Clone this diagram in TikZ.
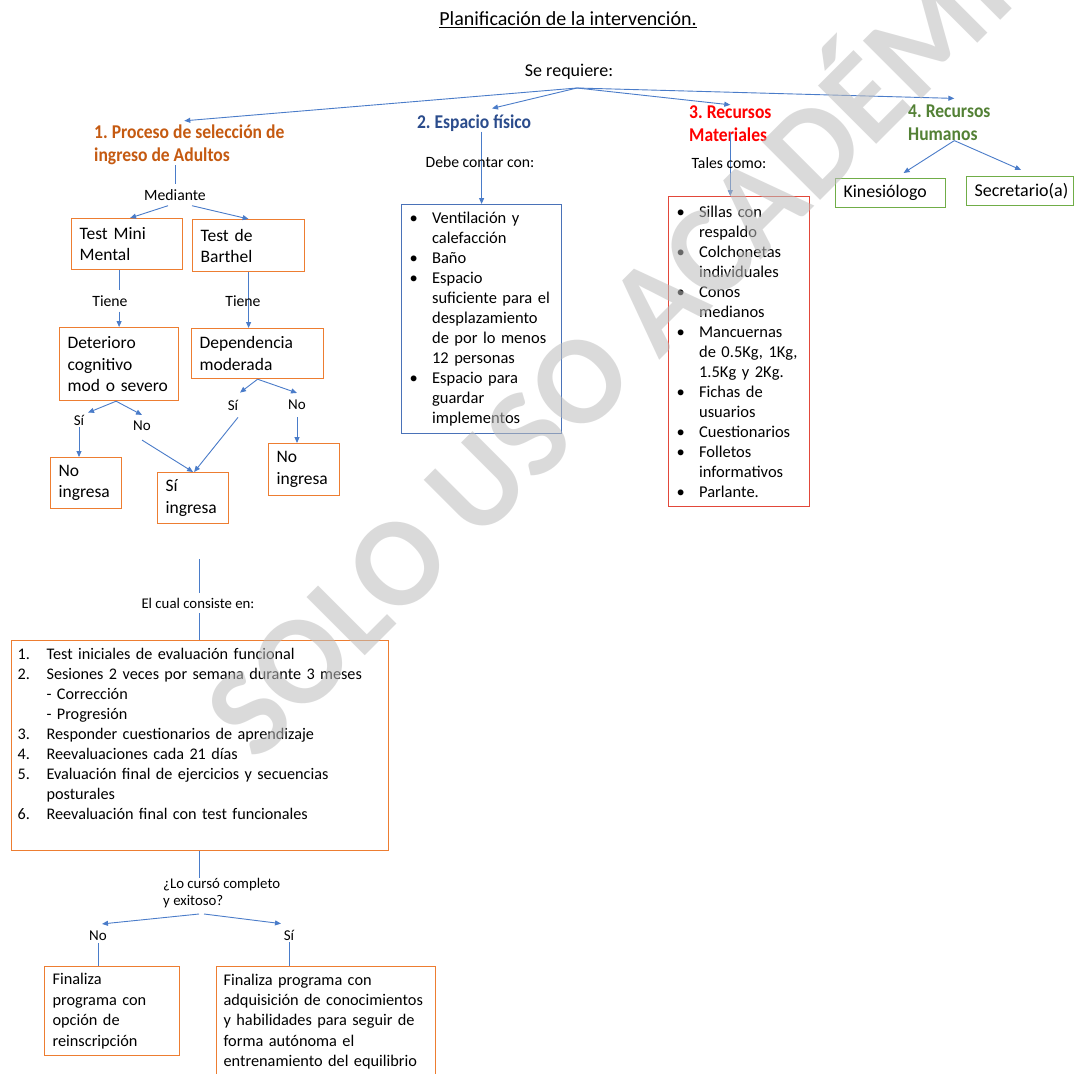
\documentclass[tikz,border=0pt]{standalone}
\usepackage{fontspec}
\setmainfont{Carlito}
\newfontfamily\hfont[FakeStretch=0.9]{Carlito}
\usetikzlibrary{arrows.meta,calc}
\definecolor{obord}{HTML}{ED7D31}
\definecolor{bbord}{HTML}{4A72B8}
\definecolor{rbord}{HTML}{E2483A}
\definecolor{gbord}{HTML}{70AD47}
\definecolor{lineblue}{HTML}{4A7CC9}
\definecolor{horange}{HTML}{C55A11}
\definecolor{hblue}{HTML}{2B4C8C}
\definecolor{hred}{HTML}{FF0000}
\definecolor{hgreen}{HTML}{538135}
\definecolor{wmgray}{HTML}{BDBDBD}
\newcommand{\fsz}[2]{\fontsize{#1}{#2}\selectfont}
\newcommand{\itemB}[1]{\makebox[22.5pt][l]{\textbullet}\mbox{#1}}
\newcommand{\contB}[1]{\hspace*{22.5pt}\mbox{#1}}
\newcommand{\numI}[2]{\makebox[29pt][l]{#1}\mbox{#2}}
\newcommand{\numC}[1]{\hspace*{29pt}\mbox{#1}}
\frenchspacing
\begin{document}
\begin{tikzpicture}[x=1pt,y=-1pt,
  box/.style={line width=1.2pt, inner xsep=8pt, inner ysep=0pt, align=left, anchor=north west, text=black},
  obox/.style={box, draw=obord},
  bbox/.style={box, draw=bbord},
  rbox/.style={box, draw=rbord},
  gbox/.style={box, draw=gbord},
  lbl/.style={inner xsep=2pt, inner ysep=5pt, font=\fsz{15.7}{17}},
  sn/.style={inner sep=2pt, font=\fsz{15}{17}},
  head/.style={inner sep=0pt, align=left, font=\hfont\bfseries\fsz{19.5}{23}},
  arr/.style={draw=lineblue, line width=0.9pt, -{Triangle[length=6pt,width=5pt]}},
  ln/.style={draw=lineblue, line width=0.9pt}
]
\useasboundingbox[fill=white] (0,0) rectangle (1074,1074);

% title
\node[inner sep=0pt, font=\fsz{20}{22}] (title) at (568,20) {\underline{Planificación de la intervención.}};
\node[inner sep=0pt, font=\fsz{18}{20}] (sereq) at (569,72) {Se requiere:};
\coordinate (apex) at (577,88);

% headings
\node[head, text=horange, anchor=west] (h1) at (94,145) {1. Proceso de selección de\\ingreso de Adultos};
\node[head, text=hblue] (h2) at (474,123) {2. Espacio físico};
\node[head, text=hred, anchor=west] (h3) at (689,124) {3. Recursos\\Materiales};
\node[head, text=hgreen, anchor=west] (h4) at (908,122.5) {4. Recursos\\Humanos};

% fan from Se requiere
\draw[arr] (apex) -- ([xshift=-5pt,yshift=4pt]h1.north);
\draw[arr] (apex) -- ([xshift=18pt,yshift=6pt]h2.north);
\draw[arr] (apex) -- ([yshift=1pt]h3.north);
\draw[arr] (apex) -- ([xshift=5pt,yshift=6pt]h4.north);

% branch 1
\node[lbl] (med) at (175,195) {Mediante};
\node[obox, minimum width=111pt, minimum height=51pt, text width=95pt, font=\fsz{17.5}{21}] (mini) at (71,218) {Test Mini\\Mental};
\node[obox, minimum width=112pt, minimum height=52pt, text width=96pt, font=\fsz{17.5}{21}] (barthel) at (192,219) {Test de\\Barthel};
\node[lbl] (tiene1) at (110,301) {Tiene};
\node[obox, minimum width=119pt, minimum height=73pt, text width=103pt, font=\fsz{17.5}{21.5}] (det) at (59,327) {Deterioro\\cognitivo\\\mbox{mod o severo}};
\node[obox, minimum width=132pt, minimum height=50pt, text width=116pt, font=\fsz{17.5}{21.5}] (dep) at (191,328) {Dependencia\\moderada};
\node[sn] (si1) at (79,420) {Sí};
\node[sn] (no1) at (142,426) {No};
\node[sn] (si2) at (233,405) {Sí};
\node[sn] (no2) at (297,405) {No};
\node[obox, minimum width=71pt, minimum height=51pt, text width=55pt, font=\fsz{17.5}{21.5}] (noing1) at (50,457) {No\\ingresa};
\node[obox, minimum width=71pt, minimum height=51pt, text width=55pt, font=\fsz{17.5}{21.5}] (siing) at (157,472) {Sí\\ingresa};
\node[obox, minimum width=71pt, minimum height=52pt, text width=55pt, font=\fsz{17.5}{21.5}] (noing2) at (268,443) {No\\ingresa};

\draw[ln] (h1.south -| med.north) -- (med.north);
\draw[arr] ([xshift=-7pt]med.south) -- ([xshift=3pt]mini.north);
\draw[arr] ([xshift=17pt]med.south) -- (barthel.north);
\draw[ln] (det.north |- mini.south) -- (det.north |- tiene1.north);
\draw[arr] (det.north |- tiene1.south) -- (det.north);
\draw[arr] (barthel.south) -- (barthel.south |- dep.north);
\node[lbl] (tiene2) at (243,301) {Tiene};
\draw[arr] ([xshift=-3pt]det.south) -- ([xshift=9pt]si1.north);
\draw[arr] ([xshift=-3pt]det.south) -- ([yshift=4pt]no1.north);
\draw[arr] (si1.south) -- (si1.south |- noing1.north);
\draw[arr] ([yshift=-7pt]no1.south) -- (siing.north);
\draw[arr] (dep.south) -- ([xshift=7pt,yshift=5pt]si2.north);
\draw[arr] (dep.south) -- ([yshift=5pt]no2.north);
\draw[arr] ([xshift=5pt,yshift=-5pt]si2.south) -- ([xshift=1pt]siing.north);
\draw[arr] ([yshift=-5pt]no2.south) -- (no2.south |- noing2.north);

% branch 2
\node[bbox, minimum width=160pt, minimum height=229pt, text width=144pt, font=\fsz{16.5}{20}] (esp) at (401,204) {%
\itemB{Ventilación y}\\\contB{calefacción}\\\itemB{Baño}\\\itemB{Espacio}\\\contB{suficiente para el}\\\contB{desplazamiento}\\\contB{de por lo menos}\\\contB{12 personas}\\\itemB{Espacio para}\\\contB{guardar}\\\contB{implementos}};
\draw[arr] (h2.south -| esp.north) -- (esp.north);
\node[lbl, inner ysep=0pt] (debe) at (480,162) {Debe contar con:};

% branch 3
\node[rbox, minimum width=141pt, minimum height=310pt, text width=125pt, font=\fsz{16.5}{20}] (mat) at (668,196) {%
\itemB{Sillas con}\\\contB{respaldo}\\\itemB{Colchonetas}\\\contB{individuales}\\\itemB{Conos}\\\contB{medianos}\\\itemB{Mancuernas}\\\contB{de 0.5Kg, 1Kg,}\\\contB{1.5Kg y 2Kg.}\\\itemB{Fichas de}\\\contB{usuarios}\\\itemB{Cuestionarios}\\\itemB{Folletos}\\\contB{informativos}\\\itemB{Parlante.}};
\draw[arr] ([yshift=9pt]h3.south) -- (h3.south |- mat.north);
\node[lbl, inner ysep=0pt] (tales) at (729,163) {Tales como:};

% branch 4
\node[gbox, minimum width=110pt, minimum height=29pt, text width=94pt, font=\fsz{17.8}{20}] (kin) at (835,178) {Kinesiólogo};
\node[gbox, minimum width=107pt, minimum height=29pt, text width=91pt, font=\fsz{18}{20}] (sec) at (966,176) {Secretario(a)};
\draw[arr] ([xshift=5pt]h4.south) -- ([xshift=13pt,yshift=5pt]kin.north);
\draw[arr] ([xshift=5pt]h4.south) -- ([xshift=1pt,yshift=6pt]sec.north);

% lower part
\coordinate (c1) at (199,559);
\node[lbl, font=\fsz{14.8}{16}] (cual) at (198,603) {El cual consiste en:};
\node[obox, minimum width=377pt, minimum height=210pt, text width=365pt, inner xsep=6pt, font=\fsz{16.2}{20}] (plan) at (11,640) {%
\numI{1.}{Test iniciales de evaluación funcional}\\
\numI{2.}{Sesiones 2 veces por semana durante 3 meses}\\
\numC{- Corrección}\\
\numC{- Progresión}\\
\numI{3.}{Responder cuestionarios de aprendizaje}\\
\numI{4.}{Reevaluaciones cada 21 días}\\
\numI{5.}{Evaluación final de ejercicios y secuencias}\\
\numC{posturales}\\
\numI{6.}{Reevaluación final con test funcionales}\\[4pt]
\mbox{}};
\draw[ln] (c1) -- (c1 |- cual.north);
\draw[ln] (c1 |- cual.south) -- (c1 |- plan.north);

\node[inner sep=0pt, align=left, anchor=west, font=\fsz{14.8}{16.5}] (lo) at (163,893) {¿Lo cursó completo\\y exitoso?};
\draw[ln] (c1 |- plan.south) -- (c1 |- lo.north);
\coordinate (c3) at (201,914);
\node[sn] (no3) at (98,936) {No};
\node[sn] (si3) at (289,935) {Sí};
\draw[arr] ([xshift=-2pt]c3) -- ([xshift=4pt,yshift=5pt]no3.north);
\draw[arr] ([xshift=3pt]c3) -- ([xshift=-8pt,yshift=4pt]si3.north);
\node[obox, minimum width=135pt, minimum height=89pt, text width=119pt, font=\fsz{16.3}{20.5}] (fin1) at (44,966) {Finaliza\\programa con\\opción de\\reinscripción};
\node[obox, minimum width=219pt, minimum height=110pt, text width=205pt, inner xsep=7pt, font=\fsz{16.3}{20.3}] (fin2) at (216,966) {%
\mbox{Finaliza programa con}\\\mbox{adquisición de conocimientos}\\\mbox{y habilidades para seguir de}\\\mbox{forma autónoma el}\\\mbox{entrenamiento del equilibrio}};
\draw[ln] (no3.south) -- (no3.south |- fin1.north);
\draw[ln] (si3.south) -- (si3.south |- fin2.north);

% watermark
\node[rotate=45, text=wmgray, text opacity=0.55, inner sep=0pt, font=\bfseries\fsz{127}{127}] (wm) at (654,292) {SOLO USO ACADÉMICO};
\end{tikzpicture}
\end{document}
